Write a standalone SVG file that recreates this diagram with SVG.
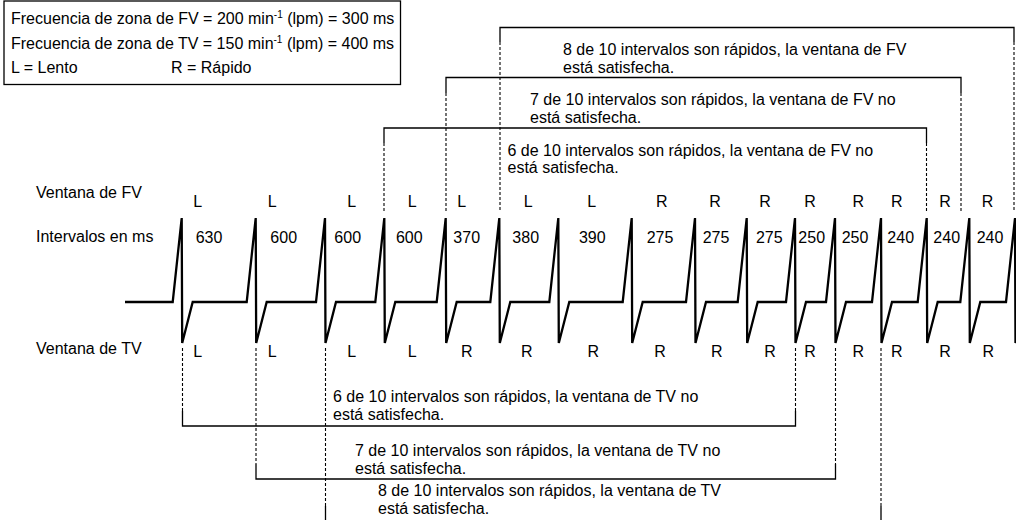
<svg xmlns="http://www.w3.org/2000/svg" width="1016" height="520" viewBox="0 0 1016 520">
<style>
text{font-family:"Liberation Sans",Arial,sans-serif;font-size:16px;fill:#000}
.m{text-anchor:middle}
.sup{font-size:10px}
.br{fill:none;stroke:#000;stroke-width:1.3}
.ds{fill:none;stroke:#000;stroke-width:1.1;stroke-dasharray:3 2}
.ecg{fill:none;stroke:#000;stroke-width:2.3;stroke-linejoin:miter}
</style>
<rect width="1016" height="520" fill="#fff"/>
<g id="legend">
<rect x="4" y="1" width="396.5" height="83.5" fill="none" stroke="#000" stroke-width="1.3"/>
<text x="11" y="24">Frecuencia de zona de FV = 200 min<tspan class="sup" dy="-6">-1</tspan><tspan dy="6"> (lpm) = 300 ms</tspan></text>
<text x="11" y="49">Frecuencia de zona de TV = 150 min<tspan class="sup" dy="-6">-1</tspan><tspan dy="6"> (lpm) = 400 ms</tspan></text>
<text x="11" y="73">L = Lento</text>
<text x="171" y="73">R = Rápido</text>
</g>
<g id="row-labels">
<text x="36" y="198">Ventana de FV</text>
<text x="36" y="242">Intervalos en ms</text>
<text x="36" y="354">Ventana de TV</text>
</g>
<g id="ecg">
<path class="ecg" d="M125 302 L172.7 302 L181.7 218 L182.2 343 L192.7 302 L246.7 302 L255.7 218 L256.2 343 L266.7 302 L316 302 L325 218 L325.5 343 L336 302 L375.3 302 L384.3 218 L384.8 343 L395.3 302 L436.7 302 L445.7 218 L446.2 343 L456.7 302 L490.3 302 L499.3 218 L499.8 343 L510.3 302 L549.3 302 L558.3 218 L558.8 343 L569.3 302 L622.7 302 L631.7 218 L632.2 343 L642.7 302 L686 302 L695 218 L695.5 343 L706 302 L737.7 302 L746.7 218 L747.2 343 L757.7 302 L786 302 L795 218 L795.5 343 L806 302 L826 302 L835 218 L835.5 343 L846 302 L872 302 L881 218 L881.5 343 L892 302 L917.7 302 L926.7 218 L927.2 343 L937.7 302 L960.3 302 L969.3 218 L969.8 343 L980.3 302 L1006 302 L1015 218 L1015.5 343 L1026 302"/>
</g>
<g id="fv-labels">
<text class="m" x="197.7" y="207">L</text>
<text class="m" x="272.3" y="207">L</text>
<text class="m" x="351.7" y="207">L</text>
<text class="m" x="412.3" y="207">L</text>
<text class="m" x="461.7" y="207">L</text>
<text class="m" x="528.3" y="207">L</text>
<text class="m" x="591.7" y="207">L</text>
<text class="m" x="661.7" y="207">R</text>
<text class="m" x="715" y="207">R</text>
<text class="m" x="765" y="207">R</text>
<text class="m" x="810" y="207">R</text>
<text class="m" x="858.3" y="207">R</text>
<text class="m" x="896.7" y="207">R</text>
<text class="m" x="945" y="207">R</text>
<text class="m" x="987.5" y="207">R</text>
</g>
<g id="interval-labels">
<text class="m" x="209" y="243">630</text>
<text class="m" x="283.7" y="243">600</text>
<text class="m" x="347.7" y="243">600</text>
<text class="m" x="409.3" y="243">600</text>
<text class="m" x="466.7" y="243">370</text>
<text class="m" x="525.7" y="243">380</text>
<text class="m" x="592.3" y="243">390</text>
<text class="m" x="660" y="243">275</text>
<text class="m" x="716" y="243">275</text>
<text class="m" x="769.3" y="243">275</text>
<text class="m" x="811.7" y="243">250</text>
<text class="m" x="855" y="243">250</text>
<text class="m" x="900.7" y="243">240</text>
<text class="m" x="946.7" y="243">240</text>
<text class="m" x="990" y="243">240</text>
</g>
<g id="tv-labels">
<text class="m" x="197.7" y="356.5">L</text>
<text class="m" x="272.3" y="356.5">L</text>
<text class="m" x="351.7" y="356.5">L</text>
<text class="m" x="412.3" y="356.5">L</text>
<text class="m" x="466.7" y="356.5">R</text>
<text class="m" x="526.7" y="356.5">R</text>
<text class="m" x="593.3" y="356.5">R</text>
<text class="m" x="660" y="356.5">R</text>
<text class="m" x="716.7" y="356.5">R</text>
<text class="m" x="770" y="356.5">R</text>
<text class="m" x="810" y="356.5">R</text>
<text class="m" x="858.3" y="356.5">R</text>
<text class="m" x="896.7" y="356.5">R</text>
<text class="m" x="945" y="356.5">R</text>
<text class="m" x="988.3" y="356.5">R</text>
</g>
<g id="connectors">
<g id="fv-window-8">
<path class="br" d="M500 42 V27.5 H1014 V42"/>
<path class="ds" d="M500 42 V212 M1014 42 V212"/>
</g>
<g id="fv-window-7">
<path class="br" d="M446 93 V77.5 H961 V93"/>
<path class="ds" d="M446 93 V212 M961 93 V212"/>
</g>
<g id="fv-window-6">
<path class="br" d="M384 143 V128 H926.5 V143"/>
<path class="ds" d="M384 143 V212 M926.5 143 V212"/>
</g>
<g id="tv-window-6">
<path class="br" d="M182.5 411 V426 H795.5 V411"/>
<path class="ds" d="M182.5 348 V411 M795.5 348 V411"/>
</g>
<g id="tv-window-7">
<path class="br" d="M256 464 V479 H835.5 V464"/>
<path class="ds" d="M256 348 V464 M835.5 348 V464"/>
</g>
<g id="tv-window-8">
<path class="br" d="M325.5 506 V522 M881 506 V522"/>
<path class="ds" d="M325.5 348 V506 M881 348 V506"/>
</g>
</g>
<g id="window-texts">
<text x="563" y="54.5">8 de 10 intervalos son rápidos, la ventana de FV</text>
<text x="563" y="72.5">está satisfecha.</text>
<text x="530" y="104.5">7 de 10 intervalos son rápidos, la ventana de FV no</text>
<text x="530" y="122.5">está satisfecha.</text>
<text x="507.5" y="155.5">6 de 10 intervalos son rápidos, la ventana de FV no</text>
<text x="507.5" y="173">está satisfecha.</text>
<text x="333" y="402">6 de 10 intervalos son rápidos, la ventana de TV no</text>
<text x="333" y="420">está satisfecha.</text>
<text x="355" y="456">7 de 10 intervalos son rápidos, la ventana de TV no</text>
<text x="355" y="474">está satisfecha.</text>
<text x="378" y="496">8 de 10 intervalos son rápidos, la ventana de TV</text>
<text x="378" y="514">está satisfecha.</text>
</g>
</svg>
